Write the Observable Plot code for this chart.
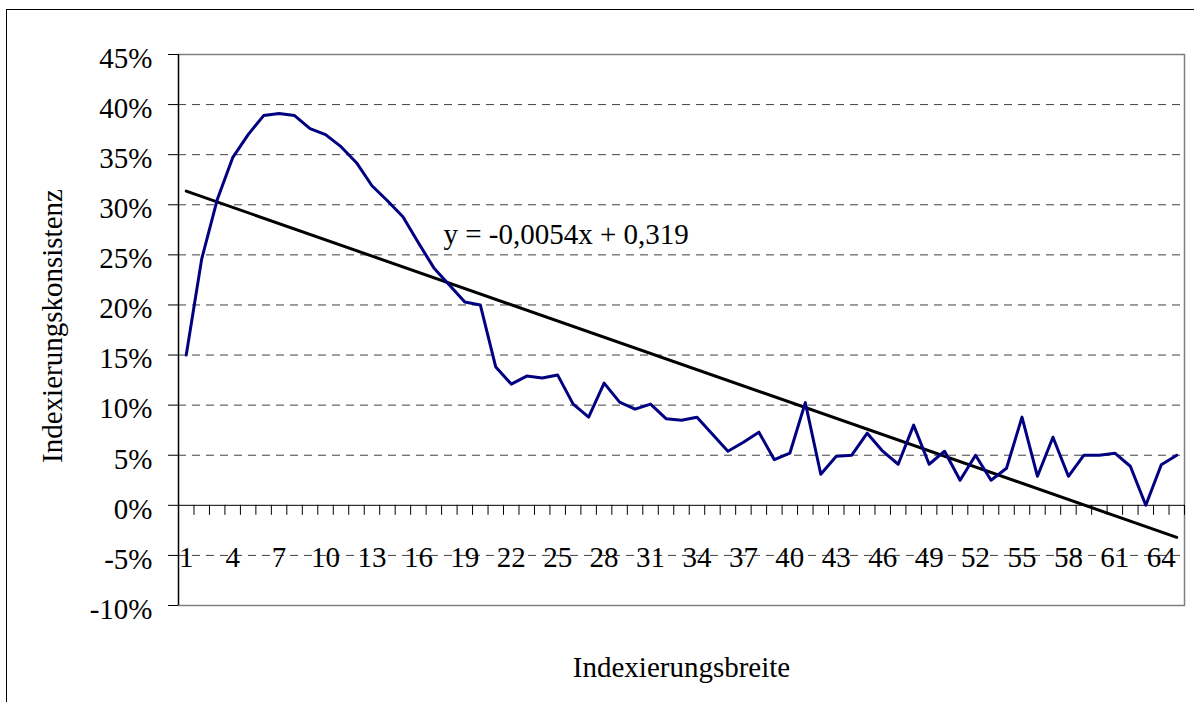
<!DOCTYPE html>
<html>
<head>
<meta charset="utf-8">
<script src="https://cdn.jsdelivr.net/npm/d3@7"></script>
<script src="https://cdn.jsdelivr.net/npm/@observablehq/plot@0.6"></script>
<style>
html, body { margin: 0; padding: 0; background: #fff; overflow: hidden; }
#wrap { position: relative; width: 1194px; height: 702px; }
#outer { position: absolute; left: 6px; top: 9px; width: 1200px; height: 700px;
  border-left: 1.5px solid #000; border-top: 1.5px solid #000; pointer-events: none; }
</style>
</head>
<body>
<div id="wrap"><div id="chart"></div><div id="outer"></div></div>
<script>
// Categories (Indexierungsbreite)
const categories = [1,2,3,4,5,6,7,8,9,10,11,12,13,14,15,16,17,18,19,20,
  21,22,23,24,25,26,27,28,29,30,31,32,33,34,35,36,37,38,39,40,
  41,42,43,44,45,46,47,48,49,50,51,52,53,54,55,56,57,58,59,60,
  61,62,63,64,65];
// Indexierungskonsistenz in percent
const consistency = [15.0,24.6,30.5,34.7,37.0,38.9,39.1,38.9,37.6,37.0,
  35.8,34.2,31.9,30.4,28.8,26.2,23.7,22.0,20.3,20.0,
  13.8,12.1,12.9,12.7,13.0,10.1,8.8,12.2,10.3,9.6,
  10.1,8.65,8.5,8.8,7.1,5.4,6.3,7.3,4.55,5.2,
  10.25,3.1,4.9,5.0,7.2,5.4,4.1,8.0,4.1,5.4,
  2.5,5.0,2.5,3.7,8.8,2.9,6.8,2.9,5.0,5.0,
  5.2,3.9,0.0,4.05,5.0];
// Linear trendline endpoints (y = -0,0054x + 0,319)
const trendX = [1, 65];
const trendY = [0.3136, -0.032];
const equationText = "y = -0,0054x + 0,319";
const eqX = 17.62;
const eqY = 0.2613;
// Axis ticks and labels
const yTicks = [0.45,0.40,0.35,0.30,0.25,0.20,0.15,0.10,0.05,0,-0.05,-0.10];
const gridVals = [0.40,0.35,0.30,0.25,0.20,0.15,0.10,0.05,-0.05];
const xLabels = [1,4,7,10,13,16,19,22,25,28,31,34,37,40,43,46,49,52,55,58,61,64];
const xBoundaries = [0.5,1.5,2.5,3.5,4.5,5.5,6.5,7.5,8.5,9.5,10.5,11.5,12.5,13.5,14.5,15.5,16.5,17.5,18.5,19.5,
  20.5,21.5,22.5,23.5,24.5,25.5,26.5,27.5,28.5,29.5,30.5,31.5,32.5,33.5,34.5,35.5,36.5,37.5,38.5,39.5,
  40.5,41.5,42.5,43.5,44.5,45.5,46.5,47.5,48.5,49.5,50.5,51.5,52.5,53.5,54.5,55.5,56.5,57.5,58.5,59.5,
  60.5,61.5,62.5,63.5,64.5,65.5];
const yTitle = "Indexierungskonsistenz";
const xTitle = "Indexierungsbreite";

const data = categories.map((c, i) => ({c, v: consistency[i] / 100}));
const trend = trendX.map((x, i) => ({x, y: trendY[i]}));
const fmt = d => Math.round(d * 100) + "%";
const FS = 29;

const plot = Plot.plot({
  width: 1194, height: 702,
  marginLeft: 178, marginRight: 10, marginTop: 54, marginBottom: 97,
  x: {domain: [0.5, 65.5], axis: null},
  y: {domain: [-0.10, 0.45]},
  style: {fontFamily: '"Liberation Serif","Times New Roman",serif', fontSize: FS + "px", color: "#000", background: "transparent"},
  marks: [
    Plot.ruleY(gridVals, {stroke: "#404040", strokeWidth: 1, strokeDasharray: "8,6"}),
    Plot.frame({stroke: "#808080", strokeWidth: 1.5}),
    Plot.ruleY([0], {stroke: "#000", strokeWidth: 1}),
    Plot.ruleX([0.5], {stroke: "#000", strokeWidth: 1.3}),
    Plot.axisY({ticks: yTicks, tickSize: 10, fill: "none", label: null, stroke: "#000"}),
    Plot.ruleX(xBoundaries, {x: d => d, y1: 0, y2: 0, insetBottom: -10, stroke: "#000"}),
    Plot.text(yTicks, {y: d => d, frameAnchor: "left", dx: -26, dy: 4, textAnchor: "end", text: d => fmt(d), fontSize: FS, fill: "#000"}),
    Plot.text(xLabels, {x: d => d, y: 0, dy: 52, text: d => String(d), fontSize: FS, fill: "#000"}),
    Plot.line(trend, {x: "x", y: "y", stroke: "#000", strokeWidth: 3}),
    Plot.line(data, {x: "c", y: "v", stroke: "#000080", strokeWidth: 3, strokeLinejoin: "round"}),
    Plot.text([equationText], {x: eqX, y: eqY, textAnchor: "start", lineAnchor: "bottom", fontSize: FS, fill: "#000"}),
    Plot.text([yTitle], {frameAnchor: "left", rotate: -90, dx: -117, dy: -4, textAnchor: "middle", lineAnchor: "bottom", fontSize: FS, fill: "#000"}),
    Plot.text([xTitle], {frameAnchor: "bottom", dy: 71, textAnchor: "middle", lineAnchor: "bottom", fontSize: FS, fill: "#000"})
  ]
});
document.getElementById("chart").appendChild(plot);
</script>
</body>
</html>
